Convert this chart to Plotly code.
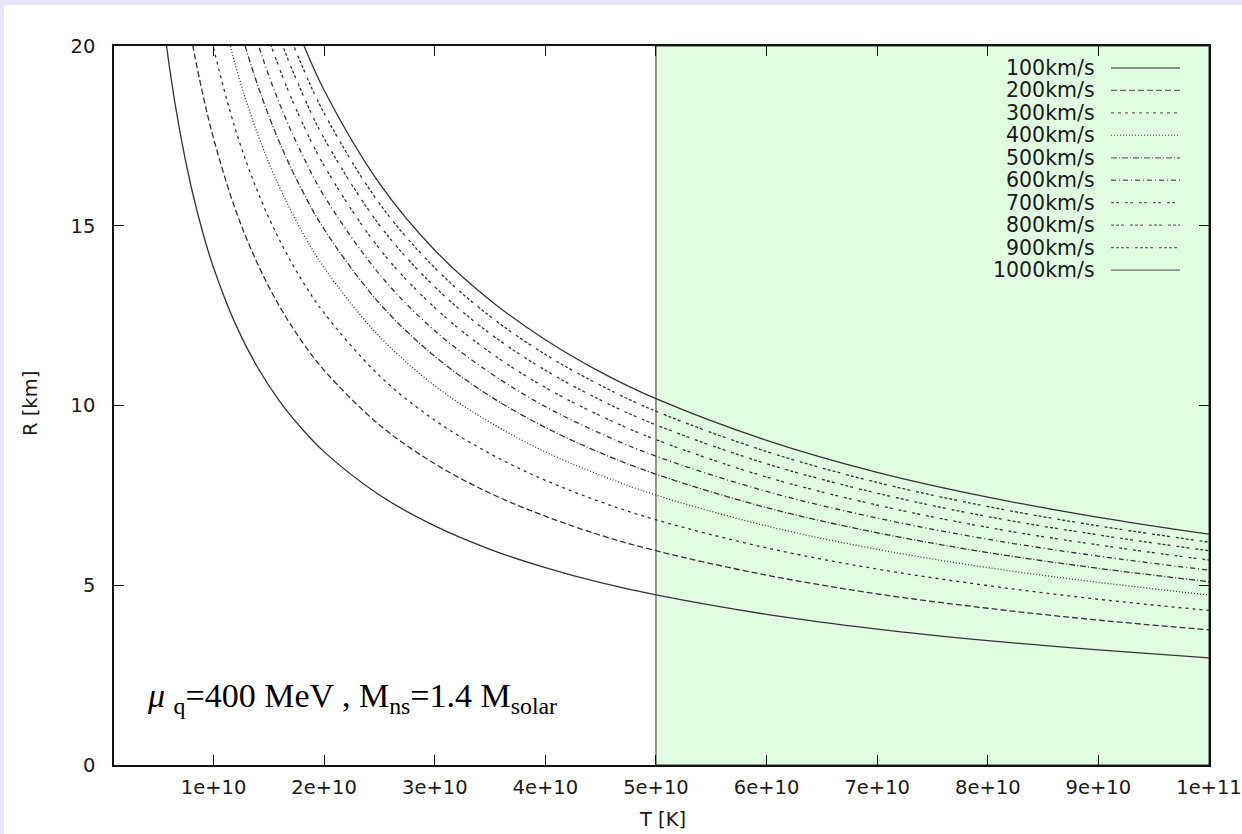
import plotly.graph_objects as go

# Temperature grid, in units of 1e10 K
T_E10 = [0.5, 0.6, 0.7, 0.8, 0.9, 1.0, 1.2, 1.4, 1.6, 1.8, 2.0, 2.5, 3.0,
         3.5, 4.0, 4.5, 5.0, 6.0, 7.0, 8.0, 9.0, 10.0]

# Radius R [km] for each kick velocity (None where the curve is off the top)
r_100 = [21.96, 19.44, 17.55, 16.05, 14.84, 13.83, 12.25, 11.05, 10.11, 9.35, 8.71,
         7.51, 6.65, 6.00, 5.49, 5.07, 4.73, 4.19, 3.78, 3.46, 3.20, 2.98]
r_200 = [None, 24.50, 22.11, 20.22, 18.70, 17.43, 15.43, 13.93, 12.74, 11.78, 10.98,
         9.46, 8.38, 7.56, 6.92, 6.39, 5.96, 5.28, 4.76, 4.36, 4.03, 3.76]
r_300 = [None, None, 25.31, 23.15, 21.40, 19.95, 17.66, 15.94, 14.58, 13.48, 12.57,
         10.83, 9.59, 8.66, 7.92, 7.32, 6.82, 6.04, 5.45, 4.99, 4.61, 4.30]
r_400 = [None, None, None, 25.48, 23.56, 21.96, 19.44, 17.54, 16.05, 14.84, 13.83,
         11.92, 10.55, 9.53, 8.71, 8.06, 7.51, 6.65, 6.00, 5.49, 5.08, 4.73]
r_500 = [None, None, None, None, 25.38, 23.66, 20.94, 18.90, 17.29, 15.99, 14.90,
         12.84, 11.37, 10.26, 9.39, 8.68, 8.09, 7.16, 6.46, 5.91, 5.47, 5.10]
r_600 = [None, None, None, None, None, 25.14, 22.26, 20.08, 18.37, 16.99, 15.83,
         13.65, 12.08, 10.91, 9.97, 9.22, 8.59, 7.61, 6.87, 6.28, 5.81, 5.42]
r_700 = [None, None, None, None, None, None, 23.43, 21.14, 19.34, 17.88, 16.67,
         14.36, 12.72, 11.48, 10.50, 9.71, 9.05, 8.01, 7.23, 6.61, 6.12, 5.70]
r_800 = [None, None, None, None, None, None, 24.50, 22.11, 20.22, 18.70, 17.43,
         15.02, 13.30, 12.00, 10.98, 10.15, 9.46, 8.38, 7.56, 6.91, 6.40, 5.96]
r_900 = [None, None, None, None, None, None, 25.48, 22.99, 21.03, 19.45, 18.13,
         15.62, 13.83, 12.48, 11.42, 10.56, 9.84, 8.72, 7.86, 7.19, 6.65, 6.20]
r_1000 = [None, None, None, None, None, None, None, 23.81, 21.78, 20.14, 18.77,
          16.18, 14.32, 12.93, 11.83, 10.93, 10.19, 9.03, 8.14, 7.45, 6.89, 6.42]

speed_labels = ["100km/s", "200km/s", "300km/s", "400km/s", "500km/s",
                "600km/s", "700km/s", "800km/s", "900km/s", "1000km/s"]
radius_series = [r_100, r_200, r_300, r_400, r_500,
                 r_600, r_700, r_800, r_900, r_1000]

x_tick_vals = [1e10, 2e10, 3e10, 4e10, 5e10, 6e10, 7e10, 8e10, 9e10, 1e11]
x_tick_text = ["1e+10", "2e+10", "3e+10", "4e+10", "5e+10",
               "6e+10", "7e+10", "8e+10", "9e+10", "1e+11"]
y_tick_vals = [0, 5, 10, 15, 20]

# Shaded temperature window
shade_T = [5e10, 1e11]

# gnuplot-like line types
dashes = ["solid", "6px,3px", "3px,4px", "1px,2px", "6px,2px,1px,2px",
          "5px,3px,1px,3px", "3px,2px,3px,6px", "3px,2px,3px,2px,3px,6px",
          "3px,2px,3px,2px,3px,2px,3px,6px", "solid"]
line_color = "#333333"

W, H = 1242, 834
ml, mr, mt, mb = 114, 33, 46, 69
pw, ph = W - ml - mr, H - mt - mb


def px_x(px):
    return (px - ml) / pw


def px_y(py):
    return (H - mb - py) / ph


fig = go.Figure()

T_vals = [t * 1e10 for t in T_E10]
for label, r, dash in zip(speed_labels, radius_series, dashes):
    fig.add_trace(go.Scatter(
        x=T_vals, y=r, mode="lines", name=label,
        line=dict(color=line_color, width=1.3, dash=dash, shape="spline"),
        showlegend=False,
    ))

font_main = dict(family="DejaVu Sans", size=19.5, color="#1a1a1a")

shapes = [
    # green window
    dict(type="rect", xref="x", yref="y", x0=shade_T[0], x1=shade_T[1], y0=0, y1=20,
         fillcolor="#e1fde1", line=dict(color="#333333", width=1), layer="below"),
    # lavender frame strips (top and left)
    dict(type="rect", xref="paper", yref="paper", x0=px_x(-5), x1=px_x(W + 5),
         y0=px_y(5), y1=px_y(-5), fillcolor="#e6e6fa", line=dict(width=0), layer="below"),
    dict(type="rect", xref="paper", yref="paper", x0=px_x(-5), x1=px_x(4),
         y0=px_y(H + 5), y1=px_y(-5), fillcolor="#e6e6fa", line=dict(width=0), layer="below"),
]

annotations = []
# hand-built key: text on the left, line sample on the right
for i, (label, dash) in enumerate(zip(speed_labels, dashes)):
    py = 68 + 22.45 * i
    annotations.append(dict(
        xref="paper", yref="paper", x=px_x(1097), y=px_y(py),
        xanchor="right", yanchor="middle", text=label, showarrow=False,
        font=dict(family="DejaVu Sans", size=20.5, color="#1a1a1a")))
    shapes.append(dict(
        type="line", xref="paper", yref="paper", x0=px_x(1111), x1=px_x(1180),
        y0=px_y(py), y1=px_y(py), line=dict(color="#6a6a6a", width=1.3, dash=dash)))

annotations.append(dict(
    xref="paper", yref="paper", x=px_x(30), y=px_y(404), textangle=-90,
    xanchor="center", yanchor="middle", text="R [km]", showarrow=False, font=font_main))
annotations.append(dict(
    xref="paper", yref="paper", x=px_x(662), y=px_y(819),
    xanchor="center", yanchor="middle", text="T [K]", showarrow=False, font=font_main))
annotations.append(dict(
    xref="paper", yref="paper", x=px_x(145), y=px_y(698),
    xanchor="left", yanchor="middle", showarrow=False,
    text="<i>μ</i> <sub>q</sub>=400 MeV , M<sub>ns</sub>=1.4 M<sub>solar</sub>",
    font=dict(family="Liberation Serif", size=34, color="#000000")))

axis_common = dict(
    showline=True, linecolor="#111111", linewidth=1.5, mirror="ticks",
    ticks="inside", ticklen=10, tickwidth=1.3, tickcolor="#111111",
    showgrid=False, zeroline=False, tickfont=font_main, automargin=False,
)

fig.update_layout(
    width=W, height=H, autosize=False,
    margin=dict(l=ml, r=mr, t=mt, b=mb, autoexpand=False),
    paper_bgcolor="white", plot_bgcolor="white",
    xaxis=dict(range=[1e9, 1e11], tickvals=x_tick_vals, ticktext=x_tick_text,
               ticklabelstandoff=4, **axis_common),
    yaxis=dict(range=[0, 20], tickvals=y_tick_vals, ticklabelstandoff=13,
               **axis_common),
    shapes=shapes, annotations=annotations,
)

fig.write_html("out.html")
